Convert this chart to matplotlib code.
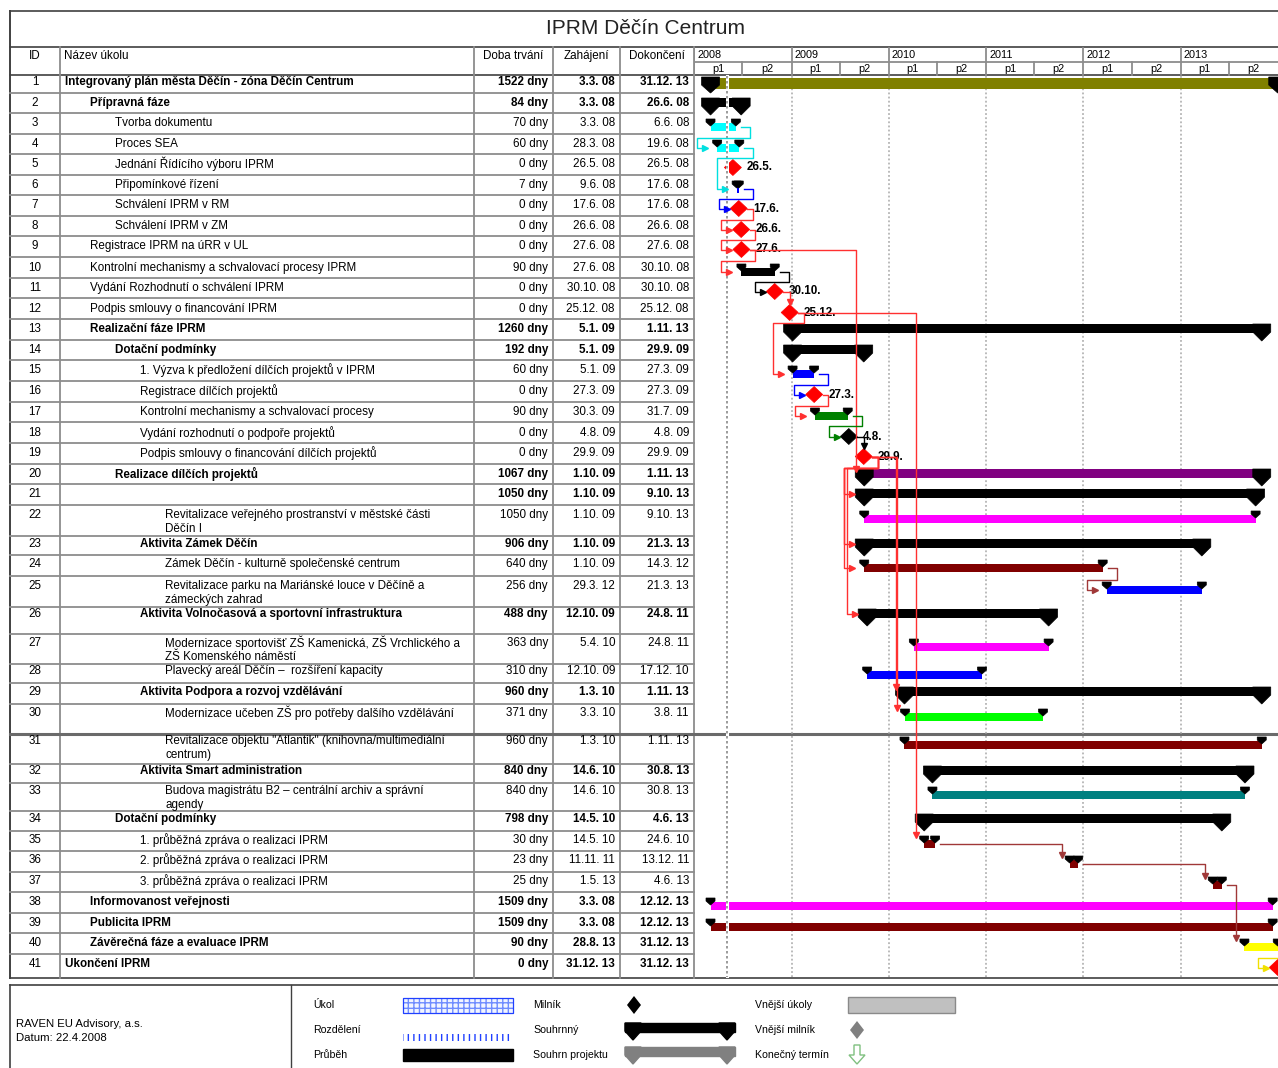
import matplotlib
matplotlib.use("Agg")
import matplotlib.pyplot as plt
import matplotlib.dates as mdates
from matplotlib.patches import Polygon, Rectangle
from datetime import date

plt.rcParams["font.family"] = ["Liberation Sans", "DejaVu Sans"]

# ---- data -------------------------------------------------------------
TITLE = "IPRM Děčín Centrum"
HEADERS = ["ID", "Název úkolu", "Doba trvání", "Zahájení", "Dokončení"]
YEARS = [2008, 2009, 2010, 2011, 2012, 2013]
HALVES = ["p1", "p2"]

NAMES = [
    "Integrovaný plán města Děčín - zóna Děčín Centrum",
    "Přípravná fáze",
    "Tvorba dokumentu",
    "Proces SEA",
    "Jednání Řídícího výboru IPRM",
    "Připomínkové řízení",
    "Schválení IPRM v RM",
    "Schválení IPRM v ZM",
    "Registrace IPRM na úRR v UL",
    "Kontrolní mechanismy a schvalovací procesy IPRM",
    "Vydání Rozhodnutí o schválení IPRM",
    "Podpis smlouvy o financování IPRM",
    "Realizační fáze IPRM",
    "Dotační podmínky",
    "1. Výzva k předložení dílčích projektů v IPRM",
    "Registrace dílčích projektů",
    "Kontrolní mechanismy a schvalovací procesy",
    "Vydání rozhodnutí o podpoře projektů",
    "Podpis smlouvy o financování dílčích projektů",
    "Realizace dílčích projektů",
    "",
    "Revitalizace veřejného prostranství v městské části\nDěčín I",
    "Aktivita Zámek Děčín",
    "Zámek Děčín - kulturně společenské centrum",
    "Revitalizace parku na Mariánské louce v Děčíně a\nzámeckých zahrad",
    "Aktivita Volnočasová a sportovní infrastruktura",
    "Modernizace sportovišť ZŠ Kamenická, ZŠ Vrchlického a\nZŠ Komenského náměstí",
    "Plavecký areál Děčín –  rozšíření kapacity",
    "Aktivita Podpora a rozvoj vzdělávání",
    "Modernizace učeben ZŠ pro potřeby dalšího vzdělávání",
    "Revitalizace objektu \"Atlantik\" (knihovna/multimediální\ncentrum)",
    "Aktivita Smart administration",
    "Budova magistrátu B2 – centrální archiv a správní\nagendy",
    "Dotační podmínky",
    "1. průběžná zpráva o realizaci IPRM",
    "2. průběžná zpráva o realizaci IPRM",
    "3. průběžná zpráva o realizaci IPRM",
    "Informovanost veřejnosti",
    "Publicita IPRM",
    "Závěrečná fáze a evaluace IPRM",
    "Ukončení IPRM",
]
LEVELS = [0, 1, 2, 2, 2, 2, 2, 2, 1, 1, 1, 1, 1, 2, 3, 3, 3, 3, 3, 2, 3,
          4, 3, 4, 4, 3, 4, 4, 3, 4, 4, 3, 4, 2, 3, 3, 3, 1, 1, 1, 0]
BOLD = {1, 2, 13, 14, 20, 21, 23, 26, 29, 32, 34, 38, 39, 40, 41}
DURATIONS = ["1522 dny", "84 dny", "70 dny", "60 dny", "0 dny", "7 dny", "0 dny",
             "0 dny", "0 dny", "90 dny", "0 dny", "0 dny", "1260 dny", "192 dny",
             "60 dny", "0 dny", "90 dny", "0 dny", "0 dny", "1067 dny", "1050 dny",
             "1050 dny", "906 dny", "640 dny", "256 dny", "488 dny", "363 dny",
             "310 dny", "960 dny", "371 dny", "960 dny", "840 dny", "840 dny",
             "798 dny", "30 dny", "23 dny", "25 dny", "1509 dny", "1509 dny",
             "90 dny", "0 dny"]
STARTS = ["3.3. 08", "3.3. 08", "3.3. 08", "28.3. 08", "26.5. 08", "9.6. 08",
          "17.6. 08", "26.6. 08", "27.6. 08", "27.6. 08", "30.10. 08", "25.12. 08",
          "5.1. 09", "5.1. 09", "5.1. 09", "27.3. 09", "30.3. 09", "4.8. 09",
          "29.9. 09", "1.10. 09", "1.10. 09", "1.10. 09", "1.10. 09", "1.10. 09",
          "29.3. 12", "12.10. 09", "5.4. 10", "12.10. 09", "1.3. 10", "3.3. 10",
          "1.3. 10", "14.6. 10", "14.6. 10", "14.5. 10", "14.5. 10", "11.11. 11",
          "1.5. 13", "3.3. 08", "3.3. 08", "28.8. 13", "31.12. 13"]
ENDS = ["31.12. 13", "26.6. 08", "6.6. 08", "19.6. 08", "26.5. 08", "17.6. 08",
        "17.6. 08", "26.6. 08", "27.6. 08", "30.10. 08", "30.10. 08", "25.12. 08",
        "1.11. 13", "29.9. 09", "27.3. 09", "27.3. 09", "31.7. 09", "4.8. 09",
        "29.9. 09", "1.11. 13", "9.10. 13", "9.10. 13", "21.3. 13", "14.3. 12",
        "21.3. 13", "24.8. 11", "24.8. 11", "17.12. 10", "1.11. 13", "3.8. 11",
        "1.11. 13", "30.8. 13", "30.8. 13", "4.6. 13", "24.6. 10", "13.12. 11",
        "4.6. 13", "12.12. 13", "12.12. 13", "31.12. 13", "31.12. 13"]
KINDS = ["project", "summary", "task", "task", "milestone", "task", "milestone",
         "milestone", "milestone", "task", "milestone", "milestone", "summary",
         "summary", "task", "milestone", "task", "milestone", "milestone", "summary",
         "summary", "task", "summary", "task", "task", "summary", "task", "task",
         "summary", "task", "task", "summary", "task", "summary", "task", "task",
         "task", "task", "task", "task", "milestone"]
BAR_COLORS = ["#808000", "black", "#00ffff", "#00ffff", "red", "blue", "red", "red",
              "red", "black", "red", "red", "black", "black", "blue", "red", "#008000",
              "black", "red", "#800080", "black", "#ff00ff", "black", "#800000", "blue",
              "black", "#ff00ff", "blue", "black", "#00ff00", "#800000", "black",
              "#008080", "black", "#800000", "#800000", "#800000", "#ff00ff", "#800000",
              "#ffff00", "red"]
RED, DRED = "#ff3030", "#a03838"
LINKS = [(3, 4, "#00e0e0"), (4, 6, "#00e0e0"), (6, 7, "blue"), (7, 8, RED), (8, 9, RED),
         (9, 10, RED), (9, 20, RED), (10, 11, "black"), (11, 12, RED), (12, 15, RED),
         (12, 35, RED), (15, 16, "blue"), (16, 17, RED), (17, 18, "green"),
         (18, 19, "black"), (19, 21, RED), (19, 23, RED), (19, 24, RED), (19, 26, RED),
         (19, 29, RED), (19, 30, RED), (24, 25, DRED), (35, 36, DRED), (36, 37, DRED),
         (37, 40, DRED), (40, 41, "#f0e000")]
STATUS_DATE = date(2008, 5, 5)
COMPANY = "RAVEN EU Advisory, a.s."
DATUM = "Datum: 22.4.2008"

# ---- layout (pixels) --------------------------------------------------
W, H = 1278, 1068
ROW_LINES = [75, 93, 113, 134, 154, 175, 195, 216, 236, 257, 278, 298, 319, 340,
             360, 381, 402, 422, 443, 464, 484, 505, 536, 555, 576, 607, 634, 664,
             683, 704, 734, 764, 783, 811, 831, 851, 872, 892, 913, 933, 954, 977]
ROW_Y = [82, 103, 123, 144, 164, 185, 205, 226, 246, 268, 288, 309, 329, 350, 370,
         391, 412, 433, 453, 474, 494, 515, 544, 564, 586, 614, 643, 671, 692, 713,
         741, 771, 791, 819, 840, 860, 881, 902, 923, 943, 964]
COL_X = [10, 60, 474, 553, 620, 694]
CHART_X0 = 694
FS = 8.4


def to_num(s):
    d, m, y = s.replace(" ", "").split(".")
    return mdates.date2num(date(2000 + int(y), int(m), int(d)))


fig = plt.figure(figsize=(W / 100, H / 100), dpi=100)
tab = fig.add_axes([0, 0, 1, 1])
tab.set_xlim(0, W)
tab.set_ylim(H, 0)
tab.axis("off")

X0 = mdates.date2num(date(YEARS[0], 1, 1))
X1 = mdates.date2num(date(YEARS[-1] + 1, 1, 1))
gx = fig.add_axes([CHART_X0 / W, 1 - 978 / H, (W - CHART_X0) / W, (978 - 47) / H])
gx.set_xlim(X0, X1)
gx.set_ylim(978, 47)
gx.axis("off")
DX = (X1 - X0) / (W - CHART_X0)


def px(n):
    return n * DX


# ---- table frame ------------------------------------------------------
GRID = "#8c8c8c"
FRAME = "#404040"
tab.plot([10, 10], [11, 978], color=FRAME, lw=1.4)
for y in (11, 47, 75, 978):
    tab.plot([10, W], [y, y], color=FRAME, lw=1.2)
for x in COL_X[1:]:
    tab.plot([x, x], [47, 978], color=GRID, lw=1.3)
for y in ROW_LINES[1:-1]:
    tab.plot([10, CHART_X0], [y, y], color=GRID, lw=1.3)
tab.plot([10, W], [734, 734], color="#6a6a6a", lw=2.2)

tab.text(645, 29, TITLE, fontsize=15, ha="center", va="center", color="#222222")
tab.text(35, 56, HEADERS[0], fontsize=FS, ha="center", va="center")
tab.text(64, 56, HEADERS[1], fontsize=FS, ha="left", va="center")
for i, h in enumerate(HEADERS[2:]):
    tab.text((COL_X[i + 2] + COL_X[i + 3]) / 2, 56, h, fontsize=FS, ha="center",
             va="center")

for i in range(len(NAMES)):
    rid = i + 1
    y = ROW_Y[i]
    fw = "bold" if rid in BOLD else "normal"
    tab.text(35, y, str(rid), fontsize=FS, ha="center", va="center")
    for k, line in enumerate(NAMES[i].split("\n")):
        tab.text(65 + 25 * LEVELS[i], y + 14 * k, line, fontsize=FS, ha="left",
                 va="center", fontweight=fw)
    tab.text(COL_X[3] - 5, y, DURATIONS[i], fontsize=FS, ha="right", va="center",
             fontweight=fw)
    tab.text(COL_X[4] - 5, y, STARTS[i], fontsize=FS, ha="right", va="center",
             fontweight=fw)
    tab.text(COL_X[5] - 5, y, ENDS[i], fontsize=FS, ha="right", va="center",
             fontweight=fw)

# ---- timescale header -------------------------------------------------
for yr in YEARS:
    a = mdates.date2num(date(yr, 1, 1))
    m = mdates.date2num(date(yr, 7, 1))
    b = mdates.date2num(date(yr + 1, 1, 1))
    gx.plot([a, a], [48, 75], color=GRID, lw=1.3)
    gx.plot([m, m], [62, 75], color=GRID, lw=1.3)
    gx.text(a + px(3), 55.5, str(yr), fontsize=7.8, ha="left", va="center")
    gx.text((a + m) / 2, 68.5, HALVES[0], fontsize=7.8, ha="center", va="center")
    gx.text((m + b) / 2, 68.5, HALVES[1], fontsize=7.8, ha="center", va="center")
    if yr > YEARS[0]:
        gx.plot([a, a], [76, 977], color="#a8a8a8", lw=1.1, ls=(0, (1.2, 1.5)),
                zorder=1)
gx.plot([X0, X1], [62, 62], color=GRID, lw=1.3)

# ---- bars -------------------------------------------------------------


def cap(x, top, rect_h, point_y, w, color, z=4):
    hw = px(w / 2)
    pts = [(x - hw, top), (x + hw, top), (x + hw, top + rect_h), (x, point_y),
           (x - hw, top + rect_h)]
    gx.add_patch(Polygon(pts, closed=True, fc=color, ec=color, lw=0.5, zorder=z))


def diamond(x, yc, color, hw=8.5, hh=8):
    pts = [(x - px(hw), yc), (x, yc - hh), (x + px(hw), yc), (x, yc + hh)]
    gx.add_patch(Polygon(pts, closed=True, fc=color, ec=color, lw=0.5, zorder=4))


starts = [to_num(s) for s in STARTS]
ends = [to_num(s) for s in ENDS]

for i, kind in enumerate(KINDS):
    a = ROW_Y[i]
    x0, x1 = starts[i], ends[i]
    c = BAR_COLORS[i]
    if kind == "project":
        gx.add_patch(Rectangle((x0, a - 4), x1 - x0, 11, fc=c, ec="none", zorder=3))
        cap(x0, a - 5, 8, a + 11, 18, "black")
        cap(x1, a - 5, 8, a + 11, 18, "black")
    elif kind == "summary":
        gx.add_patch(Rectangle((x0, a - 5), x1 - x0, 9, fc=c, ec="none", zorder=3))
        cap(x0, a - 5, 8, a + 12, 18, "black")
        cap(x1, a - 5, 8, a + 12, 18, "black")
    elif kind == "task":
        gx.add_patch(Rectangle((x0, a), max(x1 - x0, px(2)), 8, fc=c, ec="none",
                               zorder=3))
        cap(x0, a - 4, 3, a + 3, 9, "black")
        cap(x1, a - 4, 3, a + 3, 9, "black")
    else:
        diamond(x0, a + 3.5, c)
        lab_x = x0 + px(14)
        if lab_x + px(30) < X1:  # labels past the page edge are not shown
            d, mth = STARTS[i].split(".")[:2]
            gx.text(lab_x, a + 3.5, f"{d}.{mth}.", fontsize=8.4, fontweight="bold",
                    ha="left", va="center", zorder=6)

# status date line over the bars
sd = mdates.date2num(STATUS_DATE)
gx.plot([sd, sd], [76, 977], color="white", lw=2.2, zorder=5)
gx.plot([sd, sd], [76, 977], color="#8a8a8a", lw=1.2, ls=(0, (1.5, 1.5)), zorder=5)

# ---- dependency links ---------------------------------------------------
for p, s, col in LINKS:
    pi, si = p - 1, s - 1
    if KINDS[pi] == "milestone":
        sx, sy, base = starts[pi] + px(8.5), ROW_Y[pi] + 3.5, starts[pi]
    else:
        sx, sy, base = ends[pi] + px(5), ROW_Y[pi] + 4, ends[pi]
    tx = starts[si]
    if KINDS[si] == "milestone":
        lx, ty, tip = tx, ROW_Y[si] + 3.5, ROW_Y[si] - 4.5
    elif KINDS[si] == "summary":
        lx, ty, tip = tx - px(8), ROW_Y[si], ROW_Y[si] - 3
    else:
        lx, ty, tip = tx - px(8), ROW_Y[si] + 4, ROW_Y[si] - 3
    if lx >= sx + px(2):
        gx.plot([sx, lx, lx], [sy, sy, tip - 3], color=col, lw=1.0, zorder=7)
        gx.plot(lx, tip - 2.5, marker="v", ms=5, color=col, mec=col, zorder=7)
    else:
        jog = base + px(14)
        yt = ROW_LINES[pi + 1] + 4
        xl = tx - px(20)
        gx.plot([sx, jog, jog, xl, xl, tx - px(13)], [sy, sy, yt, yt, ty, ty],
                color=col, lw=1.0, zorder=7)
        gx.plot(tx - px(12), ty, marker=">", ms=5, color=col, mec=col, zorder=7)

# ---- legend box -------------------------------------------------------
tab.plot([10, W], [985, 985], color=FRAME, lw=1.2)
tab.plot([10, 10], [985, H], color=FRAME, lw=1.2)
tab.plot([291, 291], [985, H], color=FRAME, lw=1.0)
tab.text(16, 1024, COMPANY, fontsize=8.2, ha="left", va="center")
tab.text(16, 1038, DATUM, fontsize=8.2, ha="left", va="center")

LFS = 7.6
for txt, x, y in [("Úkol", 313, 1005), ("Rozdělení", 313, 1030), ("Průběh", 313, 1055),
                  ("Milník", 533, 1005), ("Souhrnný", 533, 1030),
                  ("Souhrn projektu", 533, 1055), ("Vnější úkoly", 755, 1005),
                  ("Vnější milník", 755, 1030), ("Konečný termín", 755, 1055)]:
    tab.text(x, y, txt, fontsize=LFS, ha="left", va="center")

tab.add_patch(Rectangle((403, 998), 110, 15, fc="#f2f5ff", ec="#6f8cff", lw=0.6,
                        hatch="+++"))
tab.add_patch(Rectangle((403, 998), 110, 15, fc="none", ec="#2040ff", lw=0.9))
tab.add_patch(Rectangle((403, 1034), 110, 7, fc="none", ec="#2040ff", lw=0,
                        hatch="|||"))
tab.add_patch(Rectangle((403, 1049), 110, 12, fc="black", ec="black"))
tab.add_patch(Polygon([(627, 1005), (634, 996), (641, 1005), (634, 1014)], fc="black"))


def legend_summary(y, color):
    tab.add_patch(Rectangle((625, y), 110, 9, fc=color, ec=color))
    for x in (633, 727):
        tab.add_patch(Polygon([(x - 8, y), (x + 8, y), (x + 8, y + 8), (x, y + 17),
                               (x - 8, y + 8)], fc=color, ec=color))


legend_summary(1023, "black")
legend_summary(1047, "#808080")
tab.add_patch(Rectangle((848, 997), 107, 16, fc="#c0c0c0", ec="#8a8a8a", lw=1))
tab.add_patch(Polygon([(850, 1030), (857, 1021), (864, 1030), (857, 1039)],
                      fc="#808080"))
tab.add_patch(Polygon([(854, 1045), (860, 1045), (860, 1055), (865, 1055), (857, 1064),
                       (849, 1055), (854, 1055)], fc="white", ec="#80c080", lw=1))

fig.savefig("out.png", dpi=100)
